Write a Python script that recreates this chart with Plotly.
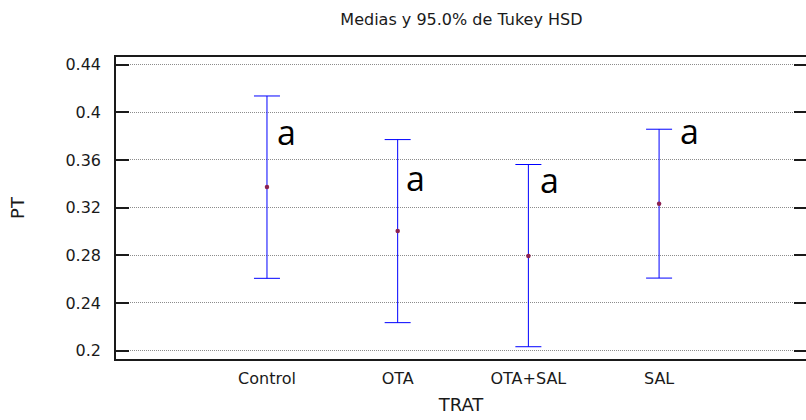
import plotly.graph_objects as go

# Tukey HSD intervals for PT by treatment
treatments = ["Control", "OTA", "OTA+SAL", "SAL"]
means = [0.3374, 0.3003, 0.2794, 0.3232]
lower = [0.2607, 0.2235, 0.2033, 0.2609]
upper = [0.4137, 0.3771, 0.3562, 0.3858]
groups = ["a", "a", "a", "a"]
y_ticks = [0.2, 0.24, 0.28, 0.32, 0.36, 0.4, 0.44]

# placement of the group letters (data coordinates)
letter_dx = [0.148, 0.138, 0.165, 0.23]
letter_y = [0.3835, 0.3447, 0.343, 0.3841]

xpos = list(range(len(treatments)))
err_up = [u - m for u, m in zip(upper, means)]
err_dn = [m - l for m, l in zip(means, lower)]

FONT = "DejaVu Sans, sans-serif"
INK = "#1a1a1a"
Y_RANGE = [0.1930, 0.4464]

fig = go.Figure()
fig.add_trace(go.Scatter(
    x=xpos, y=means, mode="markers",
    marker=dict(size=4.5, color="#8B2252"),
    error_y=dict(type="data", symmetric=False, array=err_up, arrayminus=err_dn,
                 color="#0000FF", thickness=1, width=13),
    showlegend=False, hoverinfo="skip",
))
# invisible trace to carry the right-hand tick axis
fig.add_trace(go.Scatter(x=[xpos[0]], y=[means[0]], yaxis="y2", mode="markers",
                         marker=dict(opacity=0), showlegend=False, hoverinfo="skip"))

for i, g in enumerate(groups):
    fig.add_annotation(x=xpos[i] + letter_dx[i], y=letter_y[i], text=g, showarrow=False,
                       xanchor="center", yanchor="middle",
                       font=dict(family="Open Sans, sans-serif", size=34, color="#000"))

fig.update_layout(
    width=806, height=420,
    margin=dict(l=116, r=0, t=57, b=61),
    paper_bgcolor="white", plot_bgcolor="white",
    font=dict(family=FONT, color=INK),
    title=dict(text="Medias y 95.0% de Tukey HSD", x=0.5725, xanchor="center",
               y=0.955, yanchor="middle", font=dict(family=FONT, size=16, color=INK)),
    xaxis=dict(range=[-1.155, 4.124], tickvals=xpos, ticktext=treatments,
               showgrid=False, zeroline=False, showline=True, mirror=True,
               linecolor=INK, linewidth=1.5, ticks="",
               tickfont=dict(size=16, color=INK), ticklabelstandoff=4,
               title=dict(text="TRAT", font=dict(size=18, color=INK), standoff=11)),
    yaxis=dict(range=Y_RANGE, tickvals=y_ticks, ticktext=[f"{v:g}" for v in y_ticks],
               showgrid=True, gridcolor="#8c8c8c", griddash="1px,1px", gridwidth=1,
               zeroline=False, showline=True, linecolor=INK, linewidth=1.5,
               ticks="inside", ticklen=13, tickcolor=INK, tickwidth=1.5,
               tickfont=dict(size=16, color=INK), ticklabelstandoff=10,
               title=dict(text="PT", font=dict(size=18, color=INK), standoff=36)),
    yaxis2=dict(range=Y_RANGE, overlaying="y", side="right", tickvals=y_ticks,
                showticklabels=False, showgrid=False, zeroline=False, showline=False,
                ticks="inside", ticklen=12, tickcolor=INK, tickwidth=1.5),
)

fig.write_html("out.html")
